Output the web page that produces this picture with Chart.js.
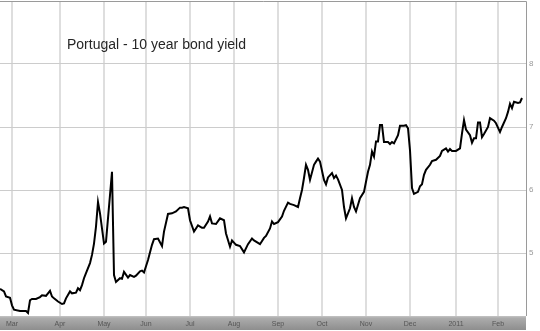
<!DOCTYPE html>
<html><head><meta charset="utf-8">
<script src="https://cdn.jsdelivr.net/npm/chart.js@4.4.1/dist/chart.umd.min.js"></script>
<style>html,body{margin:0;padding:0;background:#fff;overflow:hidden}canvas{display:block}</style>
</head><body>
<canvas id="c" width="540" height="331"></canvas>
<script>
const chartTitle = 'Portugal - 10 year bond yield';
const monthLabels = ['Mar','Apr','May','Jun','Jul','Aug','Sep','Oct','Nov','Dec','2011','Feb'];
const monthStartDay = [6,30,52,73,95,117,139,161,183,205,228,249];
const yTicks = [5,6,7,8];
const tradingDay = [0,2,3,5,6,7,10,13,14,15,16,18,20,21,23,25,26,27,29,31,32,33,35,36,38,39,40,41,42,43,45,46,47,48,49,50,52,53,56,57,58,60,61,62,64,65,67,68,70,71,72,74,76,77,79,81,82,84,86,88,90,91,92,94,95,97,98,99,101,102,104,105,106,108,110,112,113,115,116,118,120,122,124,126,127,130,132,133,135,136,137,139,141,142,144,145,147,149,150,151,152,153,154,155,157,158,159,160,162,163,164,166,167,168,169,171,172,173,175,176,177,178,180,182,183,184,185,186,187,188,189,190,191,192,194,195,196,197,199,200,202,203,204,205,206,207,209,210,211,212,213,215,216,218,220,221,223,224,225,226,228,230,231,232,233,235,236,237,238,239,240,241,242,244,245,247,248,250,251,253,254,255,256,257,259,260,261];
const yieldPct = [4.43,4.39,4.31,4.29,4.17,4.10,4.08,4.08,4.05,4.25,4.27,4.27,4.30,4.33,4.32,4.40,4.31,4.28,4.23,4.19,4.20,4.28,4.39,4.36,4.37,4.44,4.41,4.49,4.60,4.68,4.84,4.97,5.15,5.42,5.81,5.63,5.15,5.18,6.29,4.65,4.54,4.60,4.59,4.70,4.61,4.65,4.62,4.64,4.71,4.72,4.69,4.89,5.13,5.22,5.23,5.11,5.34,5.62,5.63,5.66,5.72,5.72,5.73,5.71,5.52,5.34,5.39,5.44,5.40,5.40,5.50,5.58,5.47,5.46,5.55,5.52,5.31,5.10,5.20,5.13,5.11,5.01,5.14,5.23,5.20,5.14,5.24,5.27,5.39,5.50,5.46,5.49,5.58,5.67,5.80,5.78,5.76,5.73,5.87,6.00,6.19,6.40,6.32,6.16,6.40,6.45,6.50,6.45,6.16,6.09,6.20,6.27,6.19,6.23,6.17,6.00,5.73,5.55,5.71,5.87,5.73,5.66,5.87,5.97,6.13,6.29,6.40,6.61,6.53,6.77,6.77,7.03,7.03,6.76,6.76,6.73,6.76,6.74,6.87,7.02,7.02,7.03,6.98,6.63,6.03,5.94,5.97,6.06,6.09,6.24,6.32,6.40,6.46,6.48,6.54,6.62,6.66,6.61,6.65,6.62,6.62,6.66,6.90,7.11,6.96,6.87,6.75,6.82,6.82,7.07,7.07,6.84,6.89,7.00,7.14,7.10,7.06,6.92,7.00,7.14,7.24,7.37,7.30,7.40,7.38,7.39,7.46];

const points = tradingDay.map((d, i) => ({x: d, y: yieldPct[i]}));

const decor = {
  id: 'decor',
  beforeDraw(chart) {
    const {ctx, chartArea: a} = chart;
    ctx.save();
    const g = ctx.createLinearGradient(0, a.bottom, 0, a.bottom + 14);
    g.addColorStop(0, '#c4c4c4');
    g.addColorStop(0.15, '#acacac');
    g.addColorStop(1, '#8e8e8e');
    ctx.fillStyle = g;
    ctx.fillRect(a.left, a.bottom, a.right - a.left, 14);
    ctx.restore();
  },
  beforeDatasetsDraw(chart) {
    const {ctx} = chart;
    ctx.save();
    ctx.font = '14px "Liberation Sans", Arial, sans-serif';
    ctx.fillStyle = '#262626';
    ctx.textBaseline = 'alphabetic';
    ctx.fillText(chartTitle, 67, 48.5);
    ctx.restore();
  },
  afterDraw(chart) {
    const {ctx, chartArea: a} = chart;
    ctx.save();
    ctx.strokeStyle = '#9a9a9a';
    ctx.lineWidth = 1;
    ctx.beginPath();
    ctx.moveTo(a.left, a.top + 0.5);
    ctx.lineTo(a.right + 0.5, a.top + 0.5);
    ctx.lineTo(a.right + 0.5, a.bottom);
    ctx.stroke();
    ctx.restore();
  }
};

function noPad(s) { s.paddingTop = 0; s.paddingBottom = 0; s.paddingLeft = 0; s.paddingRight = 0; }

new Chart(document.getElementById('c'), {
  type: 'line',
  data: { datasets: [{ data: points, borderColor: '#000', borderWidth: 2, pointRadius: 0, tension: 0, fill: false }] },
  options: {
    responsive: false, animation: false, devicePixelRatio: 1,
    layout: { padding: { top: 1, left: 0, right: 0, bottom: 0 } },
    plugins: { legend: { display: false }, tooltip: { enabled: false } },
    scales: {
      x: {
        type: 'linear', position: 'bottom', min: 0, max: 263,
        afterBuildTicks: s => { s.ticks = monthStartDay.map(v => ({value: v})); },
        afterFit: s => { s.height = 15; noPad(s); },
        grid: { color: '#dedede', lineWidth: 2, drawTicks: false },
        border: { display: false },
        ticks: { autoSkip: false, maxRotation: 0, padding: 4, color: '#555', font: { family: '"Liberation Sans", Arial, sans-serif', size: 7 },
          callback: (v, i) => monthLabels[i] }
      },
      y: {
        type: 'linear', position: 'right', min: 4, max: 9,
        afterBuildTicks: s => { s.ticks = yTicks.map(v => ({value: v})); },
        afterFit: s => { s.width = 14; noPad(s); },
        grid: { color: '#cccccc', lineWidth: 1, drawTicks: false },
        border: { display: false },
        ticks: { padding: 3, color: '#999', font: { family: '"Liberation Sans", Arial, sans-serif', size: 8 },
          callback: v => String(v) }
      }
    }
  },
  plugins: [decor]
});
</script>
</body></html>
